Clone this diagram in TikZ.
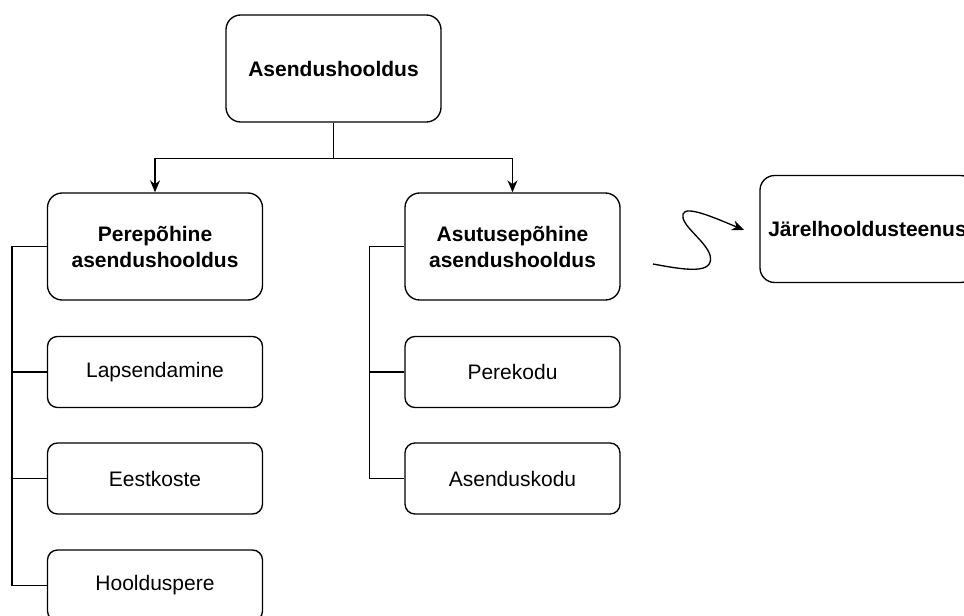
\documentclass[tikz,border=0pt]{standalone}
\usepackage{fontspec}
\setmainfont{Liberation Sans}
\usetikzlibrary{arrows.meta}

\tikzset{
  box/.style={draw, line width=1pt, rounded corners=11pt, align=center,
    minimum width=161.25pt, minimum height=80.25pt, inner sep=0pt,
    font=\fontsize{15.75}{19.5}\selectfont\bfseries},
  leafbox/.style={box, rounded corners=7.5pt, minimum height=53.25pt,
    font=\fontsize{15.75}{19.5}\selectfont},
  link/.style={line width=1pt},
  arr/.style={link, -{Stealth[length=9pt,width=7.5pt]}}
}

\begin{document}
\begin{tikzpicture}[x=0.75pt,y=-0.75pt]
\useasboundingbox (0,0) rectangle (964,616);
\node[box] (root) at (333.5,68.5) {Asendushooldus};
\node[box] (pere) at (155,246.5) {Perepõhine\\asendushooldus};
\node[box] (asut) at (512.5,246.5) {Asutusepõhine\\asendushooldus};
\node[box] (jarel) at (867.5,229) {Järelhooldusteenus};
\node[leafbox] (lap) at (155,372) {Lapsendamine};
\node[leafbox] (eest) at (155,478.5) {Eestkoste};
\node[leafbox] (hool) at (155,585.5) {Hoolduspere};
\node[leafbox] (pkodu) at (512.5,372) {Perekodu};
\node[leafbox] (akodu) at (512.5,478.5) {Asenduskodu};
\draw[arr] (root.south) -- ++(0,36) -| (pere.north);
\draw[arr] (root.south) -- ++(0,36) -| (asut.north);
\draw[link] (pere.west) -- ++(-35,0) |- (hool.west);
\draw[link] (lap.west) -- ++(-35,0);
\draw[link] (eest.west) -- ++(-35,0);
\draw[link] (asut.west) -- ++(-35,0) |- (akodu.west);
\draw[link] (pkodu.west) -- ++(-35,0);
% hand-drawn squiggle
\coordinate (sqa) at (653,264);
\coordinate (sqb) at (744,230);
\draw[arr] (sqa) .. controls (685,270) and (715,275) .. (710,255)
  .. controls (705,240) and (680,225) .. (683,214)
  .. controls (686,205) and (715,218) .. (sqb);
\end{tikzpicture}
\end{document}
